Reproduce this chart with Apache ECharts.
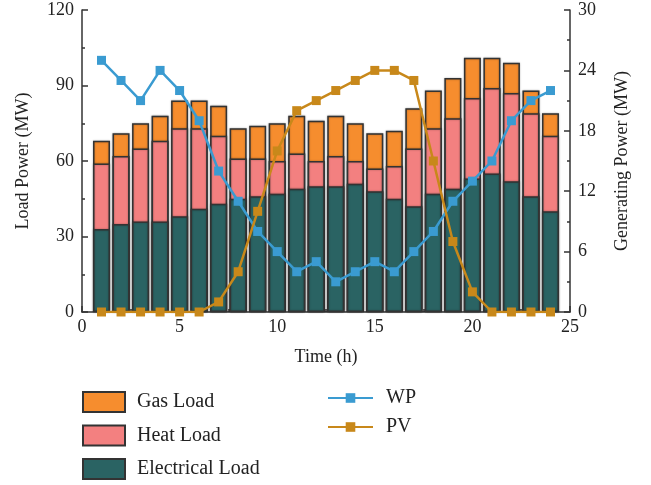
<!DOCTYPE html>
<html>
<head>
<meta charset="utf-8">
<script src="https://cdn.jsdelivr.net/npm/echarts@6/dist/echarts.min.js"></script>
<style>html,body{margin:0;padding:0;background:#fff;}#c{width:651px;height:485px;}</style>
</head>
<body>
<div id="c"></div>
<script>
var hours = [1,2,3,4,5,6,7,8,9,10,11,12,13,14,15,16,17,18,19,20,21,22,23,24];
// cumulative (stacked) tops
var electrical = [33,35,36,36,38,41,43,45,46,47,49,50,50,51,48,45,42,47,49,53,55,52,46,40];
var heatTop    = [59,62,65,68,73,73,70,61,61,60,63,60,62,60,57,58,65,73,77,85,89,87,79,70];
var gasTop     = [68,71,75,78,84,84,82,73,74,75,78,76,78,75,71,72,81,88,93,101,101,99,88,79];
var wp = [25,23,21,24,22,19,14,11,8,6,4,5,3,4,5,4,6,8,11,13,15,19,21,22];
var pv = [0,0,0,0,0,0,1,4,10,16,20,21,22,23,24,24,23,15,7,2,0,0,0,0];
var leftTicks = [0,30,60,90,120];
var rightTicks = [0,6,12,18,24,30];
var xTicks = [0,5,10,15,20,25];

function pairs(arr){return arr.map(function(v,i){return [hours[i],v];});}

var font = 'Liberation Serif';
var axisCol = '#333';
var fs = 18;
var chart = echarts.init(document.getElementById('c'));
var barStyle = function(c){return {color:c,borderColor:'#333',borderWidth:1.5,shadowColor:'rgba(0,0,0,0.3)',shadowBlur:2};};
function axisCommon(){
  return {
    nameTextStyle:{fontFamily:font,fontSize:fs,color:'#222'},
    axisLine:{show:true,lineStyle:{color:axisCol,width:1.5}},
    axisTick:{show:true,inside:true,length:6,lineStyle:{color:axisCol,width:1.5}},
    minorTick:{show:true,splitNumber:2,length:3,lineStyle:{color:axisCol,width:1.5}},
    axisLabel:{fontFamily:font,fontSize:fs,color:'#222',margin:8},
    splitLine:{show:false}
  };
}
var xa = axisCommon();
Object.assign(xa,{type:'value',min:xTicks[0],max:xTicks[xTicks.length-1],interval:5,
  name:'Time (h)',nameLocation:'middle',nameGap:36});
xa.axisLabel.margin = 6;
var ya0 = axisCommon();
Object.assign(ya0,{type:'value',min:leftTicks[0],max:leftTicks[leftTicks.length-1],interval:30,
  name:'Load Power (MW)',nameLocation:'middle',nameGap:50});
var ya1 = axisCommon();
Object.assign(ya1,{type:'value',min:rightTicks[0],max:rightTicks[rightTicks.length-1],interval:6,position:'right',
  name:'Generating Power (MW)',nameLocation:'middle',nameGap:43,nameRotate:90});

chart.setOption({
  animation:false,
  textStyle:{fontFamily:font,color:'#222'},
  grid:{left:82,right:81,top:10,bottom:173},
  xAxis:xa,
  yAxis:[ya0,ya1],
  legend:[
    {data:['Gas Load','Heat Load','Electrical Load'],orient:'vertical',left:82,top:391,padding:0,
     icon:'rect',itemWidth:42,itemHeight:20,itemGap:11.5,
     textStyle:{fontFamily:font,fontSize:20,color:'#222',padding:[0,0,0,7]}},
    {data:['WP','PV'],orient:'vertical',left:327,top:388,padding:0,
     itemWidth:45,itemHeight:12,itemGap:9,
     textStyle:{fontFamily:font,fontSize:20,color:'#222',padding:[0,0,0,8]}}
  ],
  series:[
    {name:'Gas Load',type:'bar',barWidth:17,barGap:'-100%',data:pairs(gasTop),itemStyle:barStyle('#F68D2E'),z:2},
    {name:'Heat Load',type:'bar',barWidth:17,barGap:'-100%',data:pairs(heatTop),itemStyle:barStyle('#F38080'),z:3},
    {name:'Electrical Load',type:'bar',barWidth:17,barGap:'-100%',data:pairs(electrical),itemStyle:barStyle('#2A6363'),z:4},
    {name:'WP',type:'line',yAxisIndex:1,data:pairs(wp),symbol:'rect',symbolSize:9,
     lineStyle:{color:'#3A9BD1',width:2.5},itemStyle:{color:'#3A9BD1'},z:6},
    {name:'PV',type:'line',yAxisIndex:1,data:pairs(pv),symbol:'rect',symbolSize:9,
     lineStyle:{color:'#C8881A',width:2.5},itemStyle:{color:'#C8881A'},z:6}
  ]
});
</script>
</body>
</html>
